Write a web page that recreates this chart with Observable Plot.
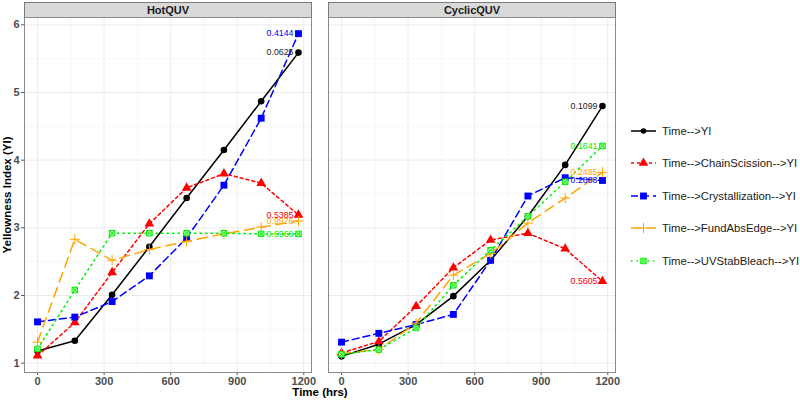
<!DOCTYPE html>
<html><head><meta charset="utf-8">
<script src="https://cdn.jsdelivr.net/npm/d3@7"></script>
<script src="https://cdn.jsdelivr.net/npm/@observablehq/plot@0.6"></script>
<style>
body{margin:0;background:#fff;font-family:"Liberation Sans",Arial,sans-serif;}
#wrap{position:relative;width:800px;height:400px;}
#legend{position:absolute;left:630px;top:0;}
.lg{position:absolute;left:0;height:16px;display:flex;align-items:center;white-space:nowrap;font-size:11.3px;color:#1a1a1a;}
.lg svg{margin-right:5px;}
svg g[aria-label="x-axis tick label"], svg g[aria-label="y-axis tick label"]{fill:#4d4d4d;font-weight:bold;font-size:11px;}
svg g[aria-label="x-axis label"], svg g[aria-label="y-axis label"]{fill:#000;font-weight:bold;font-size:11.5px;}
</style></head><body><div id="wrap"><div id="legend"></div></div>
<script>
const times = [0, 168, 336, 504, 672, 840, 1008, 1176];
const panels = ["HotQUV", "CyclicQUV"];
const seriesNames = ["Time-->YI", "Time-->ChainScission-->YI", "Time-->Crystallization-->YI", "Time-->FundAbsEdge-->YI", "Time-->UVStabBleach-->YI"];
const seriesColors = ["#000000", "#ff0000", "#0000ff", "#ffa500", "#00ee00"];
const seriesDash = [null, "3,3", "7,4", "10,6", "1.5,4"];
const seriesSymbols = ["circle", "triangle", "square", "plus", "square2"];

// HotQUV panel
const hotYI = [1.18, 1.33, 2.01, 2.72, 3.44, 4.15, 4.87, 5.59];
const hotChainScission = [1.11, 1.60, 2.34, 3.06, 3.59, 3.80, 3.66, 3.19];
const hotCrystallization = [1.61, 1.68, 1.91, 2.29, 2.85, 3.63, 4.62, 5.87];
const hotFundAbsEdge = [1.31, 2.83, 2.52, 2.68, 2.80, 2.91, 3.01, 3.10];
const hotUVStabBleach = [1.21, 2.08, 2.92, 2.92, 2.92, 2.92, 2.91, 2.91];
const hotLabels = ["0.0625", "0.5385", "0.4144", "0.9976", "0.6968"];

// CyclicQUV panel
const cyclicYI = [1.10, 1.28, 1.57, 1.99, 2.52, 3.17, 3.93, 4.80];
const cyclicChainScission = [1.15, 1.32, 1.84, 2.41, 2.82, 2.92, 2.69, 2.21];
const cyclicCrystallization = [1.31, 1.44, 1.57, 1.72, 2.52, 3.47, 3.74, 3.70];
const cyclicFundAbsEdge = [1.14, 1.20, 1.59, 2.30, 2.62, 3.07, 3.44, 3.82];
const cyclicUVStabBleach = [1.13, 1.20, 1.52, 2.15, 2.67, 3.17, 3.68, 4.21];
const cyclicLabels = ["0.1099", "0.5605", "0.2883", "0.2485", "0.1641"];

const xTicks = [0, 300, 600, 900, 1200];
const xMinor = [150, 450, 750, 1050];
const yTicks = [1, 2, 3, 4, 5, 6];
const yMinor = [1.5, 2.5, 3.5, 4.5, 5.5];

const panelSeries = {
  HotQUV: [hotYI, hotChainScission, hotCrystallization, hotFundAbsEdge, hotUVStabBleach],
  CyclicQUV: [cyclicYI, cyclicChainScission, cyclicCrystallization, cyclicFundAbsEdge, cyclicUVStabBleach]
};
const panelLabels = {HotQUV: hotLabels, CyclicQUV: cyclicLabels};

const rows = [];
const labelRows = [];
for (const p of panels) {
  seriesNames.forEach((s, si) => {
    const vals = panelSeries[p][si];
    vals.forEach((v, i) => rows.push({panel: p, series: s, si, time: times[i], yi: v}));
    labelRows.push({panel: p, series: s, si, time: times[times.length - 1], yi: vals[vals.length - 1], label: panelLabels[p][si]});
  });
}

function expand([a, b], f = 0.05) { const d = (b - a) * f; return [a - d, b + d]; }
const xDom = expand(d3.extent(times));
const yDom = expand(d3.extent(rows, d => d.yi));
const stripH = 15;
const symR = [3.3, 3.6, 3.9, 3.4, 3.5];

const marks = [
  Plot.gridX(xMinor, {stroke: "#f2f2f2", strokeOpacity: 1, strokeWidth: 0.6}),
  Plot.gridY(yMinor, {stroke: "#f2f2f2", strokeOpacity: 1, strokeWidth: 0.6}),
  Plot.gridX(xTicks, {stroke: "#ebebeb", strokeOpacity: 1, strokeWidth: 1}),
  Plot.gridY(yTicks, {stroke: "#ebebeb", strokeOpacity: 1, strokeWidth: 1}),
  Plot.frame({fill: "#d9d9d9", stroke: "#7a7a7a", render(index, scales, values, dimensions, context, next) {
    const el = next(index, scales, values, dimensions, context);
    const r = el.tagName.toLowerCase() === "rect" ? el : el.querySelector("rect");
    if (r) { r.setAttribute("y", dimensions.marginTop - stripH); r.setAttribute("height", stripH); }
    return el;
  }}),
  Plot.text(panels, {fx: d => d, text: d => d, frameAnchor: "top", lineAnchor: "middle", dy: -stripH / 2, fontWeight: "bold", fontSize: 11, fill: "#1a1a1a"}),
  Plot.axisX({ticks: xTicks, tickFormat: d => String(d), tickSize: 3, tickPadding: 2, stroke: "#555", label: "Time (hrs)", labelArrow: "none", labelAnchor: "center", labelOffset: 23.5}),
  Plot.axisY({ticks: yTicks, tickFormat: d => String(d), tickSize: 3, tickPadding: 2, stroke: "#555", label: "Yellowness Index (YI)", labelArrow: "none", labelAnchor: "center", labelOffset: 22})
];
seriesNames.forEach((s, si) => {
  const data = rows.filter(d => d.si === si);
  marks.push(Plot.line(data, {fx: "panel", x: "time", y: "yi", z: "panel", stroke: seriesColors[si], strokeWidth: 1.5, strokeDasharray: seriesDash[si]}));
  if (si === 4) {
    marks.push(Plot.dot(data, {fx: "panel", x: "time", y: "yi", symbol: "square2", stroke: seriesColors[si], fill: "#b3ffb3", r: symR[si], strokeWidth: 1}));
    marks.push(Plot.dot(data, {fx: "panel", x: "time", y: "yi", symbol: "times", stroke: seriesColors[si], r: 2.5, strokeWidth: 1}));
  } else if (si === 3) {
    marks.push(Plot.dot(data, {fx: "panel", x: "time", y: "yi", symbol: "plus", stroke: seriesColors[si], r: symR[si], strokeWidth: 1}));
  } else {
    marks.push(Plot.dot(data, {fx: "panel", x: "time", y: "yi", symbol: seriesSymbols[si], fill: seriesColors[si], stroke: "none", r: symR[si]}));
  }
});
seriesNames.forEach((s, si) => {
  marks.push(Plot.text(labelRows.filter(d => d.si === si), {fx: "panel", x: "time", y: "yi", text: "label", fill: si === 0 ? "#222" : seriesColors[si], textAnchor: "end", dx: -5, fontSize: 8.8}));
});
marks.push(Plot.frame({stroke: "#8a8a8a"}));

const chart = Plot.plot({
  width: 800, height: 400,
  marginLeft: 23, marginRight: 184, marginTop: 17, marginBottom: 28,
  x: {domain: xDom},
  y: {domain: yDom},
  fx: {domain: panels, paddingInner: 0.0557, paddingOuter: 0, axis: null, label: null},
  style: {fontFamily: "'Liberation Sans', Arial, sans-serif", background: "#fff"},
  marks
});
document.getElementById("wrap").prepend(chart);

// legend
const legendRowsY = [131, 163, 195.5, 228, 260.5];
const lg = document.getElementById("legend");
seriesNames.forEach((s, si) => {
  const row = document.createElement("div");
  row.className = "lg";
  row.style.top = (legendRowsY[si] - 8) + "px";
  const svg = d3.create("svg").attr("width", 27).attr("height", 16);
  svg.append("line").attr("x1", 1).attr("x2", 26).attr("y1", 8).attr("y2", 8)
    .attr("stroke", seriesColors[si]).attr("stroke-width", 1.5).attr("stroke-dasharray", seriesDash[si]);
  const g = svg.append("g").attr("transform", "translate(13.5,8)");
  const area = r => Math.PI * r * r;
  if (si === 4) {
    g.append("path").attr("d", d3.symbol(d3.symbolSquare2, area(symR[si]))()).attr("stroke", seriesColors[si]).attr("fill", "#b3ffb3");
    g.append("path").attr("d", d3.symbol(d3.symbolTimes, area(2.5))()).attr("stroke", seriesColors[si]).attr("fill", "none");
  } else if (si === 3) {
    g.append("path").attr("d", d3.symbol(d3.symbolPlus, area(symR[si]))()).attr("stroke", seriesColors[si]).attr("fill", "none");
  } else {
    const sym = [d3.symbolCircle, d3.symbolTriangle, d3.symbolSquare][si];
    const rr = si === 0 ? 2.8 : symR[si];
    g.append("path").attr("d", d3.symbol(sym, area(rr))()).attr("fill", seriesColors[si]);
  }
  row.appendChild(svg.node());
  const span = document.createElement("span");
  span.textContent = s;
  row.appendChild(span);
  lg.appendChild(row);
});
</script></body></html>
